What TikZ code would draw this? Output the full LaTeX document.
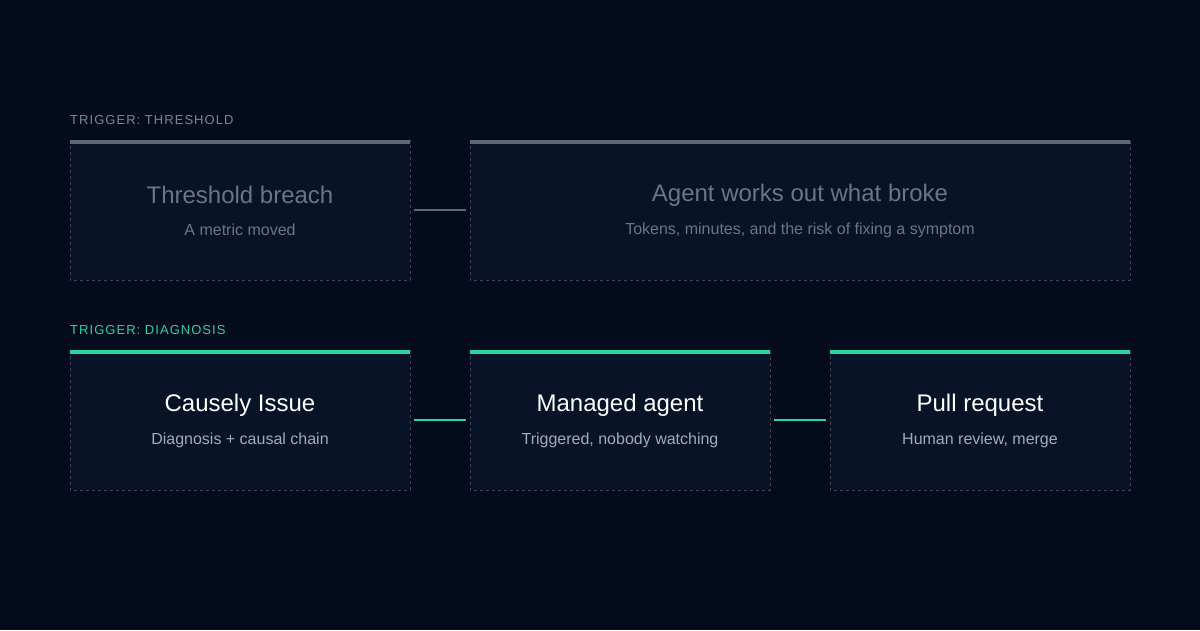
\documentclass[tikz,border=0pt]{standalone}
\usepackage{fontspec}
\setmainfont{Liberation Sans}
\definecolor{bg}{HTML}{040B1C}
\definecolor{boxbg}{HTML}{081328}
\definecolor{border}{HTML}{3A4556}
\definecolor{greybar}{HTML}{5F6878}
\definecolor{green}{HTML}{2DD4A0}
\definecolor{dimtext}{HTML}{6B7585}
\definecolor{subtext}{HTML}{A3ABB8}
\definecolor{lbl}{HTML}{7D8592}
\begin{document}
\begin{tikzpicture}[x=1pt,y=-1pt,
  box/.style={draw=border,dashed,dash pattern=on 3pt off 3pt,fill=boxbg,line width=0.8pt},
  ttl/.style={font=\fontsize{24}{28}\selectfont},
  sub/.style={font=\fontsize{16}{19}\selectfont},
  lab/.style={anchor=west,font=\fontsize{13}{15}\selectfont\addfontfeature{LetterSpace=8}},
  conn/.style={line width=1.5pt}]
\fill[bg] (0,0) rectangle (1200,630);
\useasboundingbox (0,0) rectangle (1200,630);
\node[lab,text=lbl,inner sep=0] (l1) at (70,120) {TRIGGER: THRESHOLD};
\node[lab,text=green,inner sep=0] (l2) at (70,330) {TRIGGER: DIAGNOSIS};
% row 1
\draw[box] (70,140) rectangle (410,280); \fill[greybar] (70,140) rectangle (410,144);
\draw[box] (470,140) rectangle (1130,280); \fill[greybar] (470,140) rectangle (1130,144);
\node[ttl,text=dimtext] (a) at (240,195) {Threshold breach};
\node[sub,text=dimtext] (as) at (240,230) {A metric moved};
\node[ttl,text=dimtext] (b) at (800,195) {Agent works out what broke};
\node[sub,text=dimtext] (bs) at (800,230) {Tokens, minutes, and the risk of fixing a symptom};
\coordinate (c1a) at (414,210); \coordinate (c1b) at (466,210);
\draw[conn,greybar] (c1a) -- (c1b);
% row 2
\foreach \x/\w in {70/410,470/770,830/1130}{
  \draw[box] (\x,350) rectangle (\w,490); \fill[green] (\x,350) rectangle (\w,354);}
\node[ttl,text=white] (c) at (240,405) {Causely Issue};
\node[sub,text=subtext] (cs) at (240,440) {Diagnosis + causal chain};
\node[ttl,text=white] (d) at (620,405) {Managed agent};
\node[sub,text=subtext] (ds) at (620,440) {Triggered, nobody watching};
\node[ttl,text=white] (e) at (980,405) {Pull request};
\node[sub,text=subtext] (es) at (980,440) {Human review, merge};
\coordinate (c2a) at (414,420); \coordinate (c2b) at (466,420);
\coordinate (c3a) at (774,420); \coordinate (c3b) at (826,420);
\draw[conn,green] (c2a) -- (c2b);
\draw[conn,green] (c3a) -- (c3b);
\end{tikzpicture}
\end{document}
